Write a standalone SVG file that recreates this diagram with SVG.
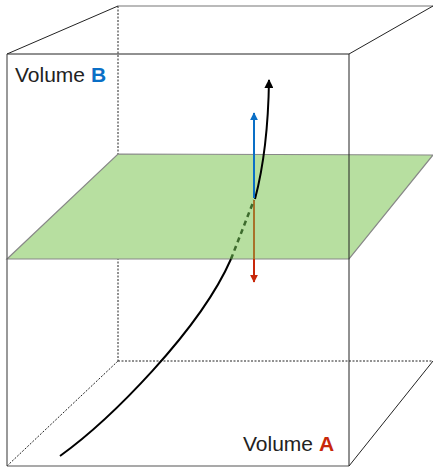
<svg xmlns="http://www.w3.org/2000/svg" width="433" height="467" viewBox="0 0 433 467">
<style>
.edge{fill:none;stroke:#222;stroke-width:1}
.hidden{fill:none;stroke:#222;stroke-width:1;stroke-dasharray:2 1.5}
.lbl{font-family:"Liberation Sans",Arial,sans-serif;font-size:21px;fill:#222}
</style>
<defs>
<marker id="hBlack" viewBox="0 0 10 10" refX="9" refY="5" markerWidth="9" markerHeight="9" markerUnits="userSpaceOnUse" orient="auto"><path d="M0,0 L10,5 L0,10 z" fill="#000"/></marker>
<marker id="hBlue" viewBox="0 0 10 10" refX="9" refY="5" markerWidth="8" markerHeight="8" markerUnits="userSpaceOnUse" orient="auto"><path d="M0,0 L10,5 L0,10 z" fill="#0a6fc6"/></marker>
<marker id="hRed" viewBox="0 0 10 10" refX="9" refY="5" markerWidth="8" markerHeight="8" markerUnits="userSpaceOnUse" orient="auto"><path d="M0,0 L10,5 L0,10 z" fill="#c8280a"/></marker>
</defs>
<rect width="433" height="467" fill="#fff"/>
<g id="box-back">
<line class="hidden" x1="118" y1="6" x2="118" y2="361"/>
<line class="hidden" x1="118" y1="361" x2="433" y2="361"/>
<line class="hidden" x1="7" y1="466" x2="118" y2="361"/>
</g>
<g id="box-top">
<line x1="118" y1="6" x2="433" y2="6" stroke="#777" stroke-width="1.2"/>
<line class="edge" x1="7" y1="54" x2="118" y2="6"/>
<line class="edge" x1="349" y1="54" x2="433" y2="6"/>
</g>
<g id="plane">
<polygon points="7,259 118,154 433,155 349,259" fill="#b7dfa0" stroke="#888" stroke-width="1.2"/>
</g>
<g id="connectors">
<line x1="254" y1="200" x2="254" y2="259" stroke="#a8722a" stroke-width="2"/>
<line x1="254" y1="259" x2="254" y2="282" stroke="#c8280a" stroke-width="2" marker-end="url(#hRed)"/>
<path d="M231,259 L254,200" fill="none" stroke="#3d6b2d" stroke-width="2.5" stroke-dasharray="5 4"/>
<path d="M60,456 C110,420 200,330 231,259" fill="none" stroke="#000" stroke-width="2"/>
<path d="M255,199 Q268,150 269,80" fill="none" stroke="#000" stroke-width="2" marker-end="url(#hBlack)"/>
<line x1="254" y1="198" x2="254" y2="113" stroke="#0a6fc6" stroke-width="2" marker-end="url(#hBlue)"/>
</g>
<g id="box-front">
<line class="edge" x1="7" y1="54" x2="349" y2="54"/>
<line x1="7" y1="54" x2="7" y2="466" stroke="#555" stroke-width="1.2"/>
<line class="edge" x1="349" y1="54" x2="349" y2="466"/>
<line x1="7" y1="466" x2="349" y2="466" stroke="#555" stroke-width="1.2"/>
<line class="edge" x1="349" y1="466" x2="433" y2="361"/>
</g>
<g id="label-b">
<text class="lbl" x="15" y="82">Volume <tspan font-weight="bold" fill="#0a6fc6">B</tspan></text>
</g>
<g id="label-a">
<text class="lbl" x="243" y="451">Volume <tspan font-weight="bold" fill="#c8280a">A</tspan></text>
</g>
</svg>
